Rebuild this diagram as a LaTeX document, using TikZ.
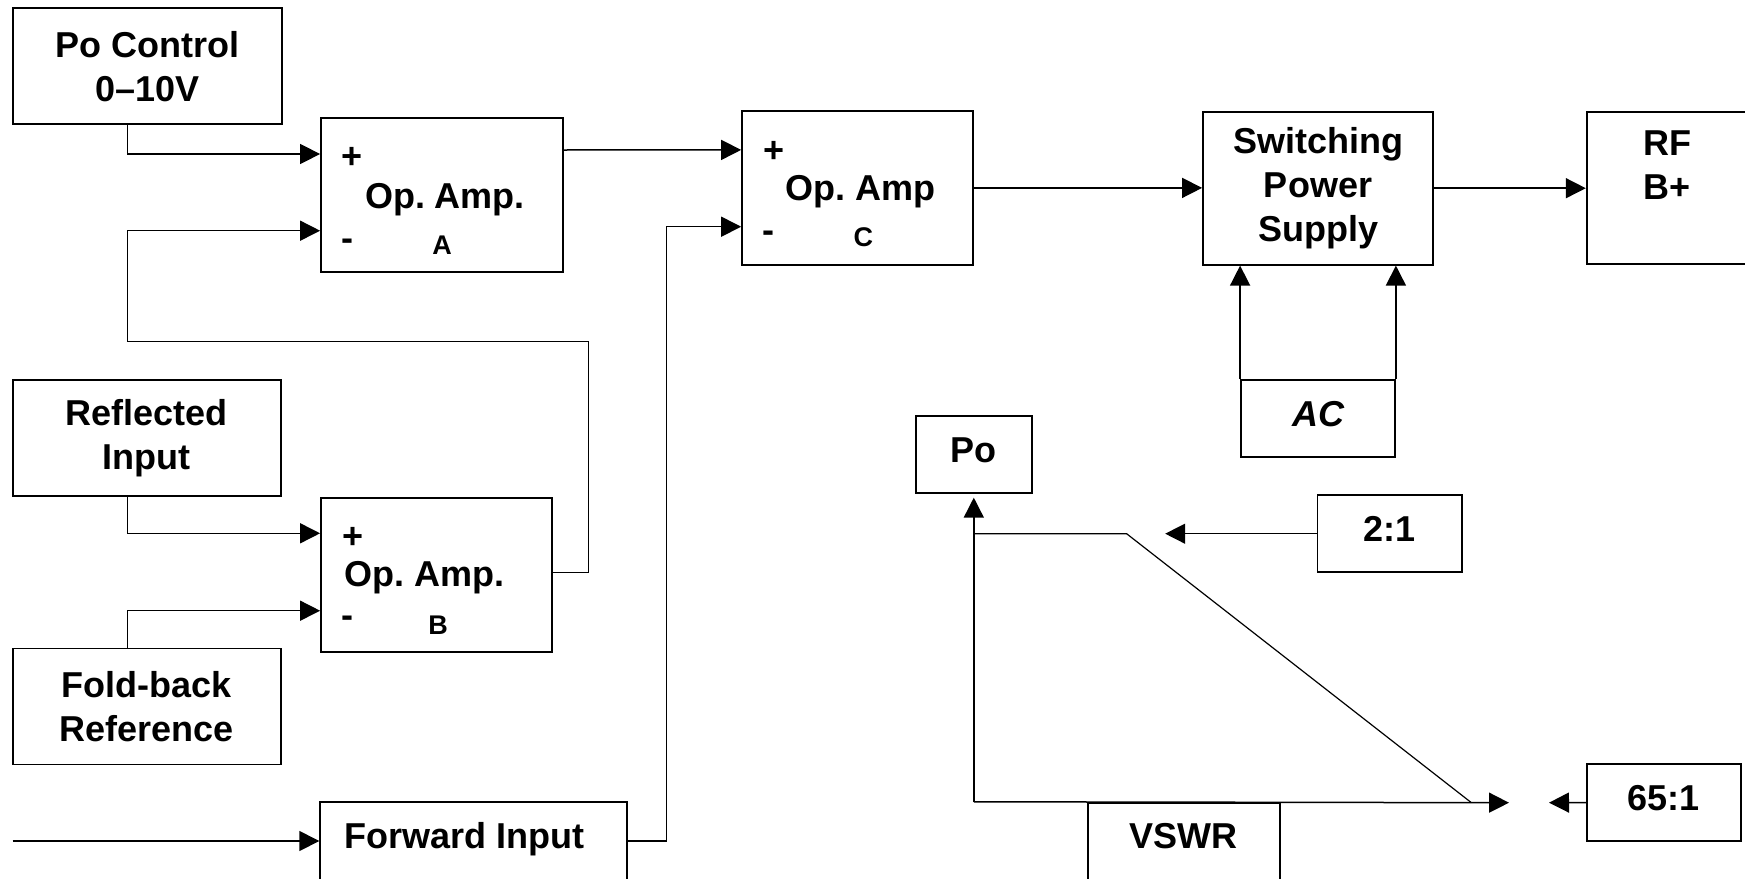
\documentclass[tikz,border=0pt]{standalone}
\usepackage{fontspec}
\setmainfont{Liberation Sans}
\usetikzlibrary{positioning,arrows.meta}
\frenchspacing

\begin{document}
\begin{tikzpicture}[
x=1pt, y=-1pt,
box/.style={draw, line width=1.8pt, inner sep=0pt, align=center, font=\fontsize{36}{44}\selectfont\bfseries},
small/.style={box, text height=26pt, text depth=10pt},
txt/.style={inner sep=0pt, anchor=base, font=\fontsize{36}{44}\selectfont\bfseries},
tag/.style={inner sep=0pt, anchor=base, font=\fontsize{27}{30}\selectfont\bfseries},
arrow/.style={-{Triangle[length=20pt, width=20pt]}, line width=1.5pt},
curve/.style={line width=1.2pt}
]
\useasboundingbox (0,0) rectangle (1745,878);
\clip (0,0) rectangle (1745,878);
\fill[white] (0,0) rectangle (1745,878);

% inputs on the left
\node[box, minimum width=269pt, minimum height=116pt] (ctrl) at (147.3,66.2) {Po Control\\0–10V};
\node[box, minimum width=268pt, minimum height=116pt] (refl) at (146.8,437.9) {Reflected\\Input};
\node[box, minimum width=268pt, minimum height=116pt] (fold) at (146.8,706.5) {Fold-back\\Reference};
\node[box, minimum width=307pt, minimum height=150pt] (fwd) at (473.7,877.3) {};
\node[txt] (fwdtxt) at (464.4,848.3) {Forward Input};

% op amps
\node[small, minimum width=241.6pt, minimum height=154pt] (opa) at (441.8,195) {};
\node[txt] (opaplus) at (352,168.6) {+};
\node[txt] (opaname) at (445,208.3) {Op. Amp.};
\node[txt] (opaminus) at (347.7,250) {-};
\node[tag] (opatag) at (442,254) {A};

\node[small, minimum width=230.8pt, minimum height=154.3pt] (opb) at (436.4,574.9) {};
\node[txt] (opbplus) at (352.6,548) {+};
\node[txt] (opbname) at (424.7,586.7) {Op. Amp.};
\node[txt] (opbminus) at (347.9,627) {-};
\node[tag] (opbtag) at (438,634) {B};

\node[small, minimum width=231.3pt, minimum height=153.7pt] (opc) at (857.7,187.9) {};
\node[txt] (opcplus) at (774,162.6) {+};
\node[txt] (opcname) at (860.7,200) {Op. Amp};
\node[txt] (opcminus) at (768.3,242) {-};
\node[tag] (opctag) at (863.3,246) {C};

% supply chain
\node[box, minimum width=230pt, minimum height=153pt] (sps) at (1318,188.2) {Switching\\Power\\Supply};
\node[small, minimum width=200pt, minimum height=152pt] (rf) at (1686.7,187.7) {};
\node[txt, anchor=north west, align=left] (rftxt) at (1643.3,130.9) {RF\\B+};
\node[small, minimum width=154pt, minimum height=76.7pt, font=\fontsize{36}{44}\selectfont\bfseries\itshape] (ac) at (1318,418.4) {AC};

% fold-back curve
\node[small, minimum width=115.7pt, minimum height=77.3pt] (po) at (973.8,454.4) {Po};
\node[small, minimum width=144.5pt, minimum height=77.3pt] (two) at (1389.8,533.7) {2:1};
\node[small, minimum width=153.6pt, minimum height=77pt] (sixty) at (1663.8,802.5) {65:1};
\node[small, minimum width=192pt, minimum height=150pt] (vswr) at (1184,877.7) {};
\node[txt] (vswrtxt) at (1183.8,848.3) {VSWR};

\coordinate (fwdin) at (12.6,841);
\coordinate (org) at (po.south |- vswr.north);
\coordinate (vmax) at (1509,802.7);
\coordinate (cut) at (1471.4,802.7);
\coordinate (twotip) at (1165.2,533.7);
\coordinate (sixtytip) at (1549,802.7);

\draw[arrow] ([xshift=-20pt]ctrl.south) |- ([yshift=41pt]opa.west);
\draw[arrow] ([yshift=2.6pt]opb.east) -- ++(36,0) -- ++(0,-230.6) -- ++(-461,0) |- ([yshift=-35.7pt]opa.west);
\draw[arrow] ([xshift=-19.3pt]refl.south) |- ([yshift=41.6pt]opb.west);
\draw[arrow] ([xshift=-19.3pt]fold.north) |- ([yshift=-35.8pt]opb.west);
\draw[arrow] (fwdin) -- (fwdin -| fwd.west);
\draw[arrow] ([yshift=45pt]opa.east) -- ([yshift=38pt]opc.west);
\draw[arrow] ([yshift=36.3pt]fwd.east) -- ++(38.4,0) |- ([yshift=-38.8pt]opc.west);
\draw[arrow] (opc.east) -- (opc.east -| sps.west);
\draw[arrow] (sps.east) -- (sps.east -| rf.west);
\draw[arrow] (ac.north west) -- (ac.north west |- sps.south);
\draw[arrow] (ac.north east) -- (ac.north east |- sps.south);

\draw[arrow] (org) -- ([yshift=-3.7pt]po.south);
\draw[arrow] (org) -- (vmax);
\draw[curve] (org |- two.west) -- ++(152.8,0) -- (cut);
\draw[arrow] (two.west) -- (twotip);
\draw[arrow] (sixty.west) -- (sixtytip);
\end{tikzpicture}
\end{document}
